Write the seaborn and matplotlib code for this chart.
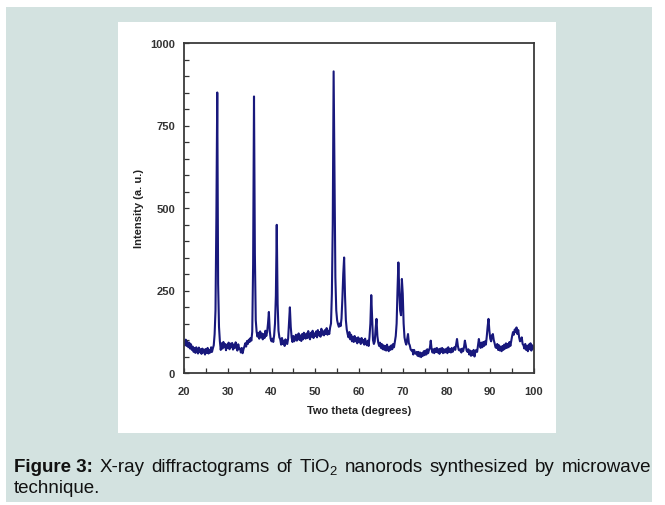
import numpy as np
import matplotlib
matplotlib.use("Agg")
import matplotlib.pyplot as plt
from matplotlib.patches import Rectangle
from matplotlib.ticker import MultipleLocator
import seaborn as sns

# XRD scan: 20-100 degrees two theta, 0.2 degree step
scan_start = 20.0
scan_step = 0.2
intensity = [
    95, 84, 101, 82, 94,     # 20
    78, 92, 74, 87, 70,      # 21
    80, 64, 76, 61, 78,      # 22
    66, 59, 77, 63, 72,      # 23
    58, 74, 62, 71, 56,      # 24
    73, 61, 76, 59, 70,      # 25
    62, 78, 64, 75, 84,      # 26
    118, 190, 470, 850, 270, # 27
    140, 96, 70, 90, 74,     # 28
    94, 78, 88, 69, 86,      # 29
    76, 92, 72, 89, 78,      # 30
    91, 71, 86, 75, 93,      # 31
    84, 68, 87, 74, 74,      # 32
    62, 76, 60, 72, 80,      # 33
    90, 80, 97, 88, 101,     # 34
    94, 106, 98, 125, 330,   # 35
    838, 360, 160, 125, 110, # 36
    122, 104, 126, 108, 120, # 37
    102, 118, 106, 128, 112, # 38
    124, 150, 185, 128, 104, # 39
    96, 104, 94, 114, 150,   # 40
    235, 449, 210, 128, 108, # 41
    102, 86, 106, 88, 98,    # 42
    82, 102, 90, 88, 104,    # 43
    150, 199, 140, 108, 94,  # 44
    112, 96, 108, 116, 98,   # 45
    110, 120, 100, 114, 97,  # 46
    118, 102, 122, 108, 104, # 47
    120, 106, 127, 110, 102, # 48
    122, 110, 128, 106, 120, # 49
    112, 126, 108, 130, 114, # 50
    124, 110, 134, 116, 126, # 51
    114, 130, 118, 136, 116, # 52
    128, 118, 138, 150, 240, # 53
    450, 914, 610, 290, 190, # 54
    160, 148, 140, 150, 142, # 55
    165, 225, 300, 350, 235, # 56
    160, 132, 118, 108, 124, # 57
    102, 116, 96, 110, 94,   # 58
    112, 96, 106, 90, 108,   # 59
    94, 104, 88, 106, 92,    # 60
    100, 86, 104, 90, 84,    # 61
    98, 82, 110, 150, 236,   # 62
    165, 100, 88, 96, 135,   # 63
    164, 112, 92, 82, 92,    # 64
    76, 88, 72, 84, 70,      # 65
    82, 68, 86, 74, 66,      # 66
    80, 70, 84, 72, 88,      # 67
    78, 96, 112, 150, 250,   # 68
    335, 250, 190, 175, 285, # 69
    240, 150, 108, 94, 86,   # 70
    102, 118, 90, 84, 72,    # 71
    68, 70, 56, 70, 60,      # 72
    58, 64, 52, 64, 50,      # 73
    62, 48, 60, 52, 66,      # 74
    54, 68, 56, 72, 60,      # 75
    70, 76, 98, 72, 62,      # 76
    72, 60, 74, 64, 76,      # 77
    62, 72, 58, 74, 64,      # 78
    76, 60, 72, 62, 70,      # 79
    74, 60, 78, 64, 72,      # 80
    62, 76, 64, 72, 78,      # 81
    70, 86, 103, 82, 70,     # 82
    68, 72, 62, 74, 66,      # 83
    78, 98, 84, 68, 64,      # 84
    72, 56, 68, 52, 66,      # 85
    54, 70, 50, 64, 70,      # 86
    64, 84, 103, 86, 76,     # 87
    92, 78, 94, 82, 96,      # 88
    86, 110, 140, 164, 128,  # 89
    104, 96, 114, 118, 100,  # 90
    90, 78, 76, 88, 70,      # 91
    84, 68, 80, 66, 82,      # 92
    70, 86, 74, 90, 76,      # 93
    88, 78, 94, 82, 98,      # 94
    112, 124, 116, 132, 124, # 95
    138, 118, 130, 108, 96,  # 96
    100, 108, 88, 84, 74,    # 97
    88, 70, 82, 66, 86,      # 98
    72, 90, 68, 84, 74,      # 99
    80,                      # 100
]
two_theta = scan_start + scan_step * np.arange(len(intensity))

x_ticks = [20, 30, 40, 50, 60, 70, 80, 90, 100]
y_ticks = [0, 250, 500, 750, 1000]
x_label = "Two theta (degrees)"
y_label = "Intensity (a. u.)"
caption_bold = "Figure 3:"
caption_words = "X-ray diffractograms of TiO$_2$ nanorods synthesized by microwave".split()
caption_line2 = "technique."

sns.set_style("white")
plt.rcParams["font.family"] = ["Liberation Sans", "DejaVu Sans"]
plt.rcParams["mathtext.fontset"] = "custom"
plt.rcParams["mathtext.rm"] = "Liberation Sans"
plt.rcParams["mathtext.it"] = "Liberation Sans:italic"
plt.rcParams["mathtext.bf"] = "Liberation Sans:bold"

W, H = 665, 506
fig = plt.figure(figsize=(W / 100, H / 100), dpi=100)
fig.patch.set_facecolor("white")


def px_rect(x0, y0, x1, y1, color):
    fig.add_artist(Rectangle((x0 / W, 1 - y1 / H), (x1 - x0) / W, (y1 - y0) / H,
                             transform=fig.transFigure, facecolor=color,
                             edgecolor="none", zorder=-10))


# page background and white figure panel
px_rect(6, 8, 652, 503, "#d3e2e0")
px_rect(118, 23, 556, 434, "white")

ax = fig.add_axes([184 / W, 1 - 374 / H, 350 / W, 330 / H])
ax.set_facecolor("none")
sns.lineplot(x=two_theta, y=intensity, ax=ax, color="#18187c",
             linewidth=1.5, estimator=None)

ax.set_xlim(20, 100)
ax.set_ylim(0, 1000)
ax.set_xticks(x_ticks)
ax.set_yticks(y_ticks)
ax.set_xticklabels([str(v) for v in x_ticks], fontweight="bold", fontsize=8, color="#333333")
ax.set_yticklabels([str(v) for v in y_ticks], fontweight="bold", fontsize=8, color="#333333")
ax.xaxis.set_minor_locator(MultipleLocator(5))
ax.yaxis.set_minor_locator(MultipleLocator(50))
ax.tick_params(which="both", direction="in", length=3.5, width=0.9, color="#333333",
               top=False, right=False, bottom=True, left=True)
ax.tick_params(axis="x", which="major", pad=9.5)
ax.tick_params(axis="y", which="major", pad=6.5)
for s in ax.spines.values():
    s.set_color("#3a3a3a")
    s.set_linewidth(1.3)

ax.set_xlabel(x_label, fontweight="bold", fontsize=8, color="#222222", va="center")
ax.xaxis.set_label_coords(0.5, -(411.5 - 374) / 330)
ax.set_ylabel(y_label, fontweight="bold", fontsize=8, color="#222222", va="center")
ax.yaxis.set_label_coords((139.5 - 184) / 350, 0.5)

# caption, first line justified across the panel width
cap_size = 13.5
fig.canvas.draw()
renderer = fig.canvas.get_renderer()
pieces = [(caption_bold, "bold")] + [(w, "normal") for w in caption_words]
texts = []
for word, weight in pieces:
    t = fig.text(0, 1 - 472 / H, word, fontsize=cap_size, fontweight=weight,
                 va="baseline", ha="left", color="#111111")
    texts.append(t)
widths = [t.get_window_extent(renderer).width for t in texts]
left, right = 14, 651
gap = (right - left - sum(widths)) / (len(texts) - 1)
x = left
for t, w in zip(texts, widths):
    t.set_x(x / W)
    x += w + gap
fig.text(left / W, 1 - 493 / H, caption_line2, fontsize=cap_size, va="baseline",
         ha="left", color="#111111")

fig.savefig("out.png", dpi=100, facecolor=fig.get_facecolor())
